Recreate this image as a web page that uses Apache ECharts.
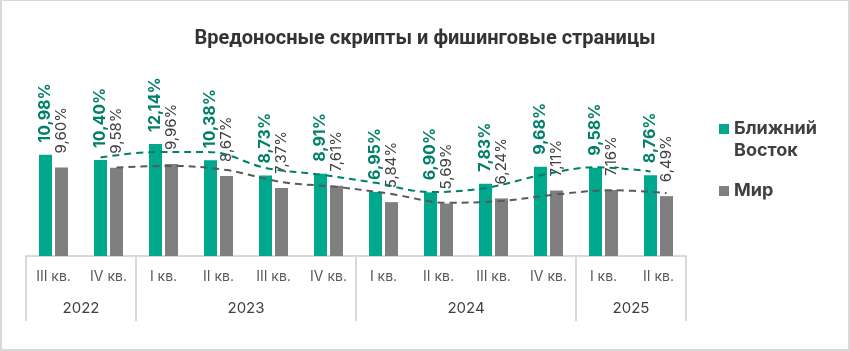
<!DOCTYPE html>
<html>
<head>
<meta charset="utf-8">
<script src="https://cdn.jsdelivr.net/npm/echarts@6/dist/echarts.min.js"></script>
<style>
html,body{margin:0;padding:0;background:#fff;}
#frame{position:absolute;left:0;top:0;width:850px;height:351px;box-sizing:border-box;border-style:solid;border-color:#d9d9d9;border-width:1px 2px 2px 2px;}
#chart{position:absolute;left:0;top:0;width:850px;height:351px;}
</style>
</head>
<body>
<div id="chart"></div>
<div id="frame"></div>
<script>
const titleText = 'Вредоносные скрипты и фишинговые страницы';
const quarters = ['III кв.','IV кв.','I кв.','II кв.','III кв.','IV кв.','I кв.','II кв.','III кв.','IV кв.','I кв.','II кв.'];
const years = ['2022','2023','2024','2025'];
const yearSpans = [2,4,4,2];
const nameME = 'Ближний Восток';
const nameWorld = 'Мир';
const valuesME = [10.98,10.40,12.14,10.38,8.73,8.91,6.95,6.90,7.83,9.68,9.58,8.76];
const valuesWorld = [9.60,9.58,9.96,8.67,7.37,7.61,5.84,5.69,6.24,7.11,7.16,6.49];
// 2-period moving-average trend lines as drawn in the reference
const trendME = [null,10.69,11.27,11.26,9.555,8.82,7.93,6.925,7.365,8.755,9.63,9.17];
const trendWorld = [null,9.59,9.77,9.315,8.02,7.49,6.725,5.765,5.965,6.675,7.135,6.825];

const GREEN = '#00A88E', GREEN_TXT = '#00806A', GRAY = '#7F7F7F', TXT = '#404040';
const FONT = 'Inter, "Noto Sans", sans-serif';
const TFONT = 'Roboto, Inter, sans-serif';
const YMAX = 24.5;

// year separator positions and label centres
const sepPos = [0]; const yearMid = {};
yearSpans.forEach((s,i)=>{ const a = sepPos[sepPos.length-1]; yearMid[a + s/2] = years[i]; sepPos.push(a+s); });

const fmt = v => v.toFixed(2).replace('.', ',') + '%';

const chart = echarts.init(document.getElementById('chart'), null, {renderer:'canvas'});
const gridBase = {top:30, bottom:95, width:660};
chart.setOption({
  backgroundColor:'#fff',
  animation:false,
  title:{text:titleText, left:'center', top:24, textStyle:{fontFamily:TFONT, fontSize:20, fontWeight:'bold', color:'#333'}},
  legend:{
    orient:'vertical', left:714, top:91, itemWidth:10, itemHeight:10, itemGap:18,
    icon:'rect',
    textStyle:{fontFamily:FONT, fontSize:18, fontWeight:'bold', color:TXT, lineHeight:22},
    formatter: n => n === nameME ? '\u00a0\nБлижний\nВосток' : n,
    data:[nameME, nameWorld]
  },
  grid:[
    Object.assign({left:26}, gridBase),
    Object.assign({left:18}, gridBase),
    Object.assign({left:34}, gridBase)
  ],
  xAxis:[
    {type:'category', gridIndex:0, data:quarters, position:'bottom',
      axisLine:{show:true, lineStyle:{color:'#d9d9d9', width:2}},
      axisTick:{show:false},
      axisLabel:{margin:14, fontFamily:FONT, fontSize:14, color:'#595959'}},
    {type:'value', gridIndex:0, min:0, max:12, position:'bottom', offset:0,
      axisLine:{show:false}, splitLine:{show:false},
      axisTick:{show:true, customValues:sepPos, length:65, lineStyle:{color:'#d9d9d9', width:2}},
      axisLabel:{show:true, customValues:Object.keys(yearMid).map(Number), margin:45, fontFamily:FONT, fontSize:15, color:TXT,
        formatter: v => yearMid[v] || ''}},
    {type:'category', gridIndex:1, data:quarters, show:false},
    {type:'category', gridIndex:2, data:quarters, show:false}
  ],
  yAxis:[
    {type:'value', gridIndex:0, min:0, max:YMAX, show:false},
    {type:'value', gridIndex:1, min:0, max:YMAX, show:false},
    {type:'value', gridIndex:2, min:0, max:YMAX, show:false}
  ],
  series:[
    {name:nameME, type:'bar', xAxisIndex:0, yAxisIndex:0, data:valuesME, barWidth:13, barGap:'23%',
      itemStyle:{color:GREEN},
      label:{show:true, position:'top', distance:12, rotate:90, align:'left', verticalAlign:'middle',
        formatter:p=>fmt(p.value), fontFamily:FONT, fontSize:16, fontWeight:'bold', color:GREEN_TXT}},
    {name:nameWorld, type:'bar', xAxisIndex:0, yAxisIndex:0, data:valuesWorld, barWidth:13,
      itemStyle:{color:GRAY},
      label:{show:true, position:'top', distance:14, rotate:90, align:'left', verticalAlign:'middle',
        formatter:p=>fmt(p.value), fontFamily:FONT, fontSize:15, color:TXT}},
    {name:'trendME', type:'line', xAxisIndex:2, yAxisIndex:1, data:trendME, smooth:0.35, symbol:'none',
      lineStyle:{color:GREEN_TXT, width:2, type:[7,5]}, z:5, silent:true},
    {name:'trendWorld', type:'line', xAxisIndex:3, yAxisIndex:2, data:trendWorld, smooth:0.35, symbol:'none',
      lineStyle:{color:'#595959', width:2, type:[7,5]}, z:5, silent:true}
  ]
});
</script>
</body>
</html>
